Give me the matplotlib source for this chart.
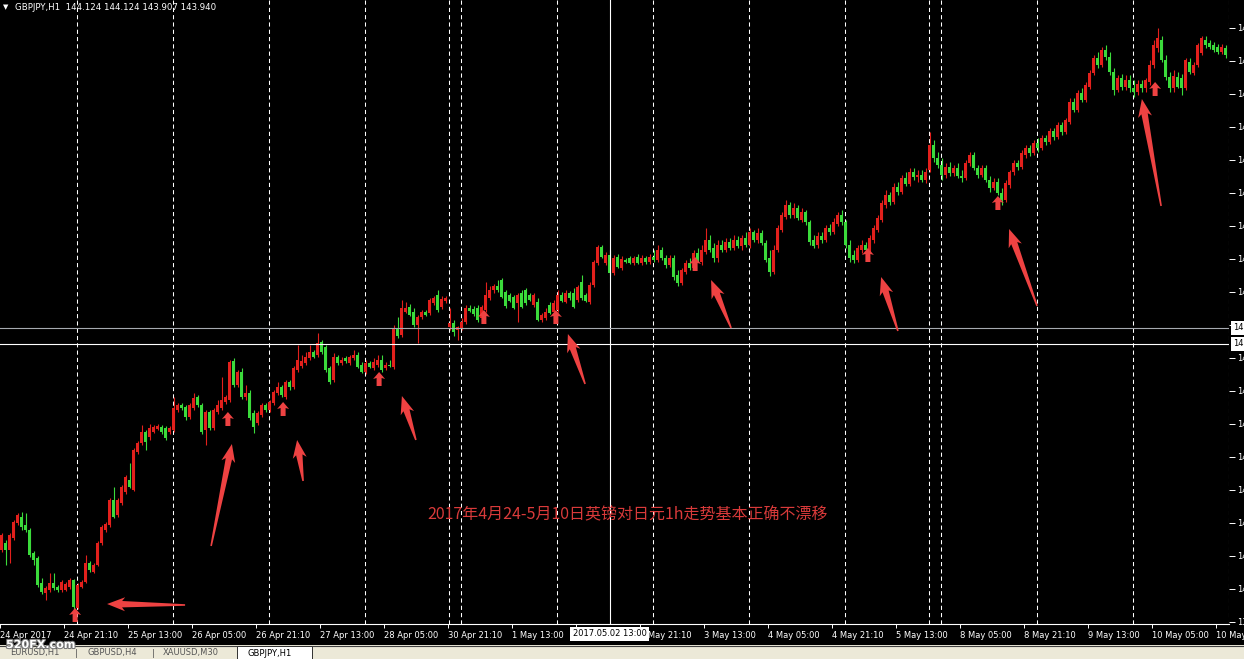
import numpy as np
import matplotlib.pyplot as plt
from matplotlib.patches import Polygon, Rectangle
import matplotlib.patheffects as pe

# GBPJPY H1, 24 Apr 2017 05:00 -> 10 May 2017 23:00 (bar index = hour bar)
opens = [
    140.50, 140.57, 140.50, 140.62, 140.77, 140.83, 140.75, 140.70, 140.47, 140.42,
    140.17, 140.07, 140.10, 140.17, 140.13, 140.10, 140.10, 140.13, 140.20, 139.92,
    140.13, 140.18, 140.37, 140.28, 140.35, 140.57, 140.70, 140.75, 141.00, 140.85,
    140.97, 141.08, 141.20, 141.10, 141.48, 141.57, 141.68, 141.63, 141.68, 141.71,
    141.73, 141.72, 141.68, 141.70, 141.90, 141.95, 141.93, 141.83, 141.92, 142.03,
    141.95, 141.70, 141.88, 141.72, 141.88, 141.92, 141.98, 142.00, 142.39, 142.15,
    142.28, 142.03, 142.07, 141.87, 141.77, 141.85, 141.95, 141.90, 141.97, 142.07,
    142.13, 142.03, 142.18, 142.13, 142.30, 142.34, 142.37, 142.42, 142.48, 142.45,
    142.58, 142.53, 142.32, 142.20, 142.43, 142.37, 142.42, 142.37, 142.42, 142.45,
    142.35, 142.28, 142.37, 142.32, 142.35, 142.40, 142.32, 142.35, 142.33, 142.72,
    142.65, 142.88, 142.93, 142.88, 142.75, 142.83, 142.88, 142.87, 142.97, 143.05,
    142.93, 142.99, 142.73, 142.77, 142.70, 142.72, 142.78, 142.92, 142.91, 142.92,
    142.82, 142.90, 143.02, 143.10, 143.14, 143.20, 143.08, 143.05, 143.03, 142.97,
    143.07, 143.10, 143.05, 142.95, 142.98, 142.80, 142.82, 142.95, 142.88, 142.90,
    143.05, 142.98, 143.07, 143.07, 143.00, 143.18, 143.05, 142.98, 143.15, 143.37,
    143.53, 143.37, 143.45, 143.27, 143.43, 143.32, 143.40, 143.42, 143.37, 143.43,
    143.37, 143.42, 143.38, 143.43, 143.40, 143.50, 143.42, 143.35, 143.42, 143.25,
    143.17, 143.28, 143.37, 143.32, 143.47, 143.38, 143.48, 143.60, 143.52, 143.42,
    143.55, 143.50, 143.58, 143.52, 143.60, 143.54, 143.62, 143.55, 143.68, 143.60,
    143.67, 143.57, 143.42, 143.28, 143.50, 143.70, 143.83, 143.95, 143.85, 143.92,
    143.80, 143.88, 143.78, 143.60, 143.55, 143.64, 143.60, 143.72, 143.68, 143.76,
    143.85, 143.78, 143.55, 143.45, 143.40, 143.50, 143.55, 143.50, 143.60, 143.70,
    143.80, 143.95, 144.05, 143.98, 144.13, 144.08, 144.22, 144.16, 144.28, 144.23,
    144.25, 144.20, 144.30, 144.55, 144.42, 144.35, 144.25, 144.33, 144.27, 144.32,
    144.24, 144.22, 144.37, 144.45, 144.32, 144.25, 144.32, 144.20, 144.12, 144.18,
    144.07, 144.00, 144.15, 144.28, 144.37, 144.33, 144.45, 144.52, 144.47, 144.57,
    144.52, 144.62, 144.58, 144.69, 144.63, 144.75, 144.68, 144.78, 144.98, 144.90,
    145.07, 145.00, 145.13, 145.27, 145.42, 145.35, 145.50, 145.43, 145.28, 145.10,
    145.22, 145.13, 145.20, 145.12, 145.08, 145.16, 145.12, 145.18, 145.35, 145.52,
    145.60, 145.40, 145.23, 145.12, 145.23, 145.22, 145.12, 145.38, 145.27, 145.35,
    145.47, 145.60, 145.57, 145.55, 145.53, 145.48, 145.52,
]
highs = [
    140.67, 140.60, 140.67, 140.80, 140.87, 140.88, 140.87, 140.72, 140.49, 140.44,
    140.22, 140.14, 140.27, 140.27, 140.15, 140.20, 140.18, 140.22, 140.21, 140.17,
    140.20, 140.45, 140.39, 140.37, 140.59, 140.75, 140.78, 141.02, 141.13, 141.02,
    141.15, 141.25, 141.37, 141.52, 141.59, 141.75, 141.70, 141.76, 141.75, 141.76,
    141.75, 141.74, 141.74, 142.03, 141.97, 141.97, 141.95, 141.97, 142.07, 142.05,
    141.97, 141.90, 141.90, 141.92, 142.00, 142.23, 142.05, 142.40, 142.42, 142.30,
    142.32, 142.15, 142.10, 141.90, 141.89, 141.97, 141.97, 142.00, 142.10, 142.18,
    142.15, 142.20, 142.20, 142.34, 142.55, 142.45, 142.48, 142.55, 142.50, 142.67,
    142.60, 142.55, 142.34, 142.47, 142.45, 142.43, 142.44, 142.45, 142.50, 142.48,
    142.38, 142.40, 142.39, 142.42, 142.45, 142.45, 142.38, 142.40, 142.75, 142.83,
    143.00, 142.98, 142.96, 142.92, 142.85, 142.90, 142.90, 143.02, 143.04, 143.10,
    143.04, 143.04, 142.92, 142.80, 142.74, 142.82, 142.95, 142.95, 142.94, 142.95,
    142.95, 143.18, 143.14, 143.16, 143.20, 143.22, 143.10, 143.07, 143.05, 143.07,
    143.10, 143.12, 143.07, 143.07, 143.02, 142.87, 142.92, 142.98, 143.00, 143.10,
    143.08, 143.10, 143.09, 143.12, 143.15, 143.25, 143.07, 143.18, 143.40, 143.55,
    143.55, 143.48, 143.50, 143.45, 143.46, 143.44, 143.42, 143.44, 143.44, 143.46,
    143.45, 143.44, 143.46, 143.50, 143.55, 143.53, 143.45, 143.45, 143.45, 143.30,
    143.32, 143.40, 143.42, 143.50, 143.52, 143.55, 143.72, 143.65, 143.57, 143.60,
    143.60, 143.62, 143.62, 143.65, 143.64, 143.65, 143.68, 143.72, 143.70, 143.72,
    143.70, 143.60, 143.50, 143.55, 143.75, 143.88, 144.00, 143.98, 143.97, 143.95,
    143.92, 143.90, 143.80, 143.65, 143.68, 143.68, 143.75, 143.76, 143.82, 143.88,
    143.90, 143.80, 143.60, 143.50, 143.55, 143.60, 143.58, 143.65, 143.75, 143.85,
    144.00, 144.10, 144.08, 144.17, 144.18, 144.25, 144.28, 144.32, 144.32, 144.30,
    144.30, 144.32, 144.68, 144.60, 144.48, 144.42, 144.37, 144.38, 144.35, 144.37,
    144.30, 144.40, 144.48, 144.48, 144.35, 144.35, 144.35, 144.24, 144.22, 144.22,
    144.12, 144.20, 144.30, 144.40, 144.40, 144.50, 144.55, 144.55, 144.60, 144.62,
    144.65, 144.65, 144.72, 144.72, 144.78, 144.78, 144.82, 145.02, 145.02, 145.10,
    145.12, 145.18, 145.30, 145.45, 145.48, 145.53, 145.55, 145.48, 145.32, 145.25,
    145.26, 145.25, 145.25, 145.20, 145.20, 145.20, 145.22, 145.40, 145.60, 145.72,
    145.64, 145.45, 145.28, 145.30, 145.28, 145.26, 145.42, 145.42, 145.38, 145.57,
    145.64, 145.64, 145.60, 145.58, 145.56, 145.56, 145.55,
]
lows = [
    140.48, 140.35, 140.37, 140.60, 140.75, 140.70, 140.68, 140.43, 140.35, 140.13,
    140.06, 140.00, 140.08, 140.10, 140.08, 140.08, 140.09, 140.11, 139.90, 139.91,
    140.12, 140.17, 140.28, 140.27, 140.34, 140.55, 140.68, 140.73, 140.82, 140.83,
    140.95, 141.06, 141.12, 141.09, 141.46, 141.55, 141.50, 141.60, 141.67, 141.70,
    141.66, 141.60, 141.66, 141.68, 141.88, 141.90, 141.80, 141.81, 141.90, 141.93,
    141.66, 141.55, 141.70, 141.70, 141.86, 141.90, 141.96, 141.98, 142.13, 142.13,
    142.01, 142.00, 141.80, 141.67, 141.75, 141.83, 141.88, 141.88, 141.95, 142.05,
    142.03, 142.01, 142.10, 142.11, 142.28, 142.32, 142.35, 142.40, 142.42, 142.43,
    142.46, 142.28, 142.16, 142.18, 142.35, 142.35, 142.37, 142.35, 142.40, 142.32,
    142.27, 142.26, 142.32, 142.30, 142.33, 142.28, 142.30, 142.33, 142.31, 142.62,
    142.63, 142.87, 142.84, 142.73, 142.57, 142.81, 142.84, 142.85, 142.95, 142.88,
    142.91, 142.97, 142.70, 142.64, 142.60, 142.70, 142.76, 142.88, 142.84, 142.78,
    142.80, 142.88, 143.00, 143.07, 143.08, 143.02, 142.92, 142.98, 142.91, 142.78,
    142.92, 142.95, 142.99, 142.93, 142.79, 142.78, 142.80, 142.86, 142.86, 142.88,
    142.98, 142.97, 143.00, 142.92, 142.98, 143.00, 142.98, 142.96, 143.13, 143.35,
    143.42, 143.35, 143.25, 143.25, 143.32, 143.30, 143.37, 143.36, 143.35, 143.36,
    143.35, 143.36, 143.36, 143.38, 143.38, 143.40, 143.32, 143.33, 143.20, 143.14,
    143.15, 143.26, 143.30, 143.30, 143.38, 143.35, 143.46, 143.48, 143.38, 143.38,
    143.48, 143.48, 143.50, 143.50, 143.52, 143.50, 143.53, 143.52, 143.58, 143.57,
    143.55, 143.38, 143.24, 143.26, 143.48, 143.68, 143.81, 143.82, 143.82, 143.80,
    143.78, 143.75, 143.55, 143.52, 143.52, 143.57, 143.58, 143.65, 143.66, 143.74,
    143.75, 143.52, 143.38, 143.37, 143.38, 143.47, 143.48, 143.48, 143.57, 143.68,
    143.78, 143.92, 143.95, 143.96, 144.05, 144.06, 144.14, 144.14, 144.20, 144.18,
    144.18, 144.17, 144.28, 144.38, 144.32, 144.20, 144.22, 144.24, 144.24, 144.22,
    144.18, 144.20, 144.34, 144.30, 144.22, 144.23, 144.18, 144.08, 144.10, 144.05,
    143.95, 143.98, 144.12, 144.25, 144.30, 144.31, 144.42, 144.44, 144.45, 144.48,
    144.50, 144.55, 144.56, 144.60, 144.61, 144.65, 144.66, 144.76, 144.88, 144.88,
    144.98, 144.98, 145.11, 145.25, 145.32, 145.33, 145.40, 145.25, 145.05, 145.08,
    145.10, 145.10, 145.08, 145.03, 145.05, 145.08, 145.08, 145.15, 145.32, 145.48,
    145.38, 145.20, 145.08, 145.08, 145.12, 145.05, 145.10, 145.26, 145.25, 145.33,
    145.45, 145.52, 145.51, 145.48, 145.46, 145.46, 145.42,
]
closes = [
    140.65, 140.50, 140.65, 140.78, 140.85, 140.73, 140.70, 140.45, 140.40, 140.15,
    140.08, 140.12, 140.17, 140.12, 140.10, 140.18, 140.16, 140.20, 139.93, 140.15,
    140.18, 140.37, 140.30, 140.35, 140.57, 140.73, 140.76, 141.00, 140.83, 141.00,
    141.13, 141.23, 141.13, 141.50, 141.57, 141.68, 141.58, 141.72, 141.73, 141.74,
    141.68, 141.62, 141.72, 141.92, 141.95, 141.92, 141.83, 141.95, 142.02, 141.95,
    141.68, 141.88, 141.72, 141.90, 141.95, 142.00, 142.03, 142.38, 142.15, 142.28,
    142.03, 142.07, 141.82, 141.73, 141.87, 141.95, 141.90, 141.98, 142.08, 142.13,
    142.05, 142.18, 142.13, 142.32, 142.40, 142.39, 142.43, 142.48, 142.43, 142.57,
    142.48, 142.30, 142.18, 142.43, 142.37, 142.40, 142.39, 142.43, 142.45, 142.33,
    142.28, 142.37, 142.33, 142.38, 142.40, 142.30, 142.35, 142.34, 142.72, 142.64,
    142.92, 142.92, 142.85, 142.75, 142.83, 142.88, 142.85, 143.00, 143.02, 142.90,
    143.01, 143.02, 142.77, 142.68, 142.73, 142.78, 142.92, 142.89, 142.86, 142.80,
    142.93, 143.05, 143.10, 143.14, 143.10, 143.03, 142.94, 142.99, 142.92, 143.05,
    142.93, 142.97, 143.00, 143.05, 142.80, 142.85, 142.88, 142.87, 142.97, 143.05,
    142.99, 143.07, 143.02, 142.93, 143.13, 143.02, 142.99, 143.15, 143.38, 143.53,
    143.43, 143.45, 143.27, 143.42, 143.33, 143.41, 143.38, 143.37, 143.42, 143.37,
    143.42, 143.38, 143.43, 143.40, 143.50, 143.42, 143.35, 143.42, 143.23, 143.17,
    143.30, 143.37, 143.32, 143.47, 143.40, 143.50, 143.60, 143.50, 143.42, 143.55,
    143.50, 143.58, 143.52, 143.60, 143.54, 143.62, 143.55, 143.68, 143.60, 143.67,
    143.57, 143.40, 143.28, 143.50, 143.72, 143.85, 143.95, 143.85, 143.92, 143.82,
    143.88, 143.78, 143.58, 143.54, 143.64, 143.60, 143.72, 143.68, 143.78, 143.85,
    143.78, 143.55, 143.42, 143.40, 143.52, 143.55, 143.50, 143.62, 143.72, 143.82,
    143.97, 144.05, 143.98, 144.13, 144.08, 144.22, 144.16, 144.28, 144.23, 144.25,
    144.20, 144.28, 144.55, 144.42, 144.35, 144.25, 144.33, 144.27, 144.32, 144.24,
    144.22, 144.37, 144.45, 144.32, 144.25, 144.32, 144.20, 144.12, 144.18, 144.07,
    144.00, 144.17, 144.28, 144.37, 144.33, 144.47, 144.52, 144.47, 144.57, 144.52,
    144.62, 144.58, 144.69, 144.63, 144.75, 144.68, 144.80, 144.98, 144.90, 145.07,
    145.00, 145.15, 145.27, 145.42, 145.35, 145.50, 145.43, 145.28, 145.10, 145.22,
    145.13, 145.20, 145.12, 145.08, 145.16, 145.12, 145.20, 145.35, 145.55, 145.62,
    145.40, 145.23, 145.12, 145.24, 145.13, 145.12, 145.40, 145.28, 145.35, 145.55,
    145.62, 145.55, 145.53, 145.50, 145.48, 145.53, 145.45,
]

# bar index where each new trading day starts (period separators)
day_starts = [19, 43, 67, 91, 112, 115, 139, 163, 187, 211, 232, 235, 259, 283, 307]

# time axis labels, one every 16 bars
time_tick_bars = list(range(0, 305, 16))
time_tick_labels = [
    "24 Apr 2017", "24 Apr 21:10", "25 Apr 13:00", "26 Apr 05:00", "26 Apr 21:10",
    "27 Apr 13:00", "28 Apr 05:00", "30 Apr 21:10", "1 May 13:00", "2 May 05:00",
    "2 May 21:10", "3 May 13:00", "4 May 05:00", "4 May 21:10", "5 May 13:00",
    "8 May 05:00", "8 May 21:10", "9 May 13:00", "10 May 05:00", "10 May 21:10",
]

cross_bar = 152
cross_price = 142.56
hline_price = 142.72

# annotations: small arrows (bar, price of tip) and long arrows (tail -> tip)
small_arrows = [(18.4, 139.92), (56.6, 141.88), (70.4, 141.98), (94.4, 142.28),
                (120.6, 142.90), (138.6, 142.90), (173.4, 143.43), (216.6, 143.52),
                (249.1, 144.04), (288.4, 145.18)]
long_arrows = [((45.9, 139.95), (26.4, 139.96)), ((52.4, 140.54), (57.6, 141.56)),
               ((75.4, 141.19), (73.9, 141.60)), ((103.6, 141.60), (100.1, 142.04)),
               ((145.9, 142.16), (141.6, 142.66)), ((182.4, 142.72), (177.4, 143.20)),
               ((224.1, 142.69), (219.9, 143.23)), ((258.9, 142.94), (251.9, 143.71)),
               ((289.9, 143.94), (285.1, 145.01))]

note = "2017年4月24-5月10日英镑对日元1h走势基本正确不漂移"

W, H = 1244, 659
UP, DOWN = '#E3201C', '#3BDB3B'
ARROW = '#EE4242'

fig = plt.figure(figsize=(W / 100, H / 100), dpi=100, facecolor='black')
ax = fig.add_axes([0, 1 - 624 / H, 1229 / W, 624 / H])
ax.set_facecolor('black')
ax.set_xlim(-0.375, 306.875)
ax.set_ylim(139.76, 146.00)

o = np.array(opens); h = np.array(highs); l = np.array(lows); c = np.array(closes)
idx = np.arange(len(c))
cols = np.where(c >= o, UP, DOWN)
ax.vlines(idx, l, h, colors=cols, linewidth=0.8, zorder=3)
ax.bar(idx, np.maximum(np.abs(c - o), 0.012), bottom=np.minimum(o, c), width=0.75,
       color=cols, linewidth=0, zorder=4)

# separators and crosshair
for b in day_starts:
    ax.axvline(b - 0.25, color='white', linewidth=0.75, linestyle=(0, (4, 3)), zorder=2)
ax.axvline(cross_bar, color='white', linewidth=0.8, zorder=5)
ax.axhline(cross_price, color='white', linewidth=0.8, zorder=5)
ax.axhline(hline_price, color='#A6AAB0', linewidth=0.8, zorder=5)

# axes
for s in ['top', 'left', 'right']:
    ax.spines[s].set_visible(False)
ax.spines['bottom'].set_color('white')
ax.spines['bottom'].set_linewidth(0.8)
ax.set_xticks([b - 0.375 for b in time_tick_bars])
ax.set_xticklabels(time_tick_labels, ha='left')
ax.tick_params(axis='x', colors='white', labelsize=6, length=3, width=0.7, pad=2)
ax.yaxis.tick_right()
yt = np.round(145.723 - 0.33 * np.arange(19), 3)
ax.set_yticks(yt)
ax.set_yticklabels([f"{v:.3f}" for v in yt])
ax.tick_params(axis='y', colors='white', labelsize=6, length=4, width=0.7, pad=2)

# overlay in pixel coordinates for annotations
ov = fig.add_axes([0, 0, 1, 1])
ov.set_xlim(0, W)
ov.set_ylim(H, 0)
ov.axis('off')
ov.patch.set_alpha(0)


def to_px(bar, price):
    x, y = ax.transData.transform((bar, price))
    return x, H - y


for bar, price in small_arrows:
    x, y = to_px(bar, price)
    shape = [(0, 0), (6, 7), (2.5, 6), (2.5, 14), (-2.5, 14), (-2.5, 6), (-6, 7)]
    ov.add_patch(Polygon([(x + dx, y + dy) for dx, dy in shape], closed=True,
                         facecolor=ARROW, edgecolor='none', zorder=6))

for tail, tip in long_arrows:
    tx, ty = to_px(*tail)
    px_, py_ = to_px(*tip)
    dx, dy = tx - px_, ty - py_
    L = np.hypot(dx, dy)
    ux, uy = dx / L, dy / L
    vx, vy = -uy, ux
    local = [(0, 0), (18, 7), (15, 3.2), (L, 0.8), (L, -0.8), (15, -3.2), (18, -7)]
    pts = [(px_ + a * ux + b * vx, py_ + a * uy + b * vy) for a, b in local]
    ov.add_patch(Polygon(pts, closed=True, facecolor=ARROW, edgecolor='none', zorder=6))

ov.text(427, 515, note, color='#D93A3A', fontsize=11.5, ha='left', va='center',
        family=['Noto Sans CJK SC', 'DejaVu Sans'])

# header
ov.text(3, 7, "▼", color='white', fontsize=5, ha='left', va='center')
ov.text(15, 7, "GBPJPY,H1  144.124 144.124 143.907 143.940", color='white',
        fontsize=6.2, ha='left', va='center')

# crosshair labels
cx, _ = to_px(cross_bar, cross_price)
ov.text(cx, 634, "2017.05.02 13:00", color='black', fontsize=6, ha='center', va='center',
        bbox=dict(boxstyle='square,pad=0.25', facecolor='white', edgecolor='none'), zorder=7)
for price in (hline_price, cross_price):
    _, y = to_px(0, price)
    ov.text(1233, y, f"{price:.3f}", color='black', fontsize=6, ha='left', va='center',
            bbox=dict(boxstyle='square,pad=0.25', facecolor='white', edgecolor='none'),
            zorder=7)

# tab bar
ov.add_patch(Rectangle((0, 645), W, 14, facecolor='#ECE9D8', edgecolor='none', zorder=6))
ov.plot([0, W], [645.5, 645.5], color='#404040', linewidth=0.8, zorder=7)
for x, t in [(10, "EURUSD,H1"), (75, "|"), (88, "GBPUSD,H4"), (152, "|"), (163, "XAUUSD,M30")]:
    ov.text(x, 653, t, color='#555555', fontsize=6, ha='left', va='center', zorder=8)
ov.add_patch(Rectangle((237, 646), 75, 13, facecolor='white', edgecolor='#303030',
                       linewidth=0.7, zorder=7))
ov.text(248, 653, "GBPJPY,H1", color='black', fontsize=6, ha='left', va='center', zorder=8)
ov.text(6, 645, "520FX.com", color='white', fontsize=8, fontweight='bold', ha='left',
        va='center', zorder=9,
        path_effects=[pe.withStroke(linewidth=1.5, foreground='#777777')])

fig.savefig('out.png', dpi=100, facecolor='black')
